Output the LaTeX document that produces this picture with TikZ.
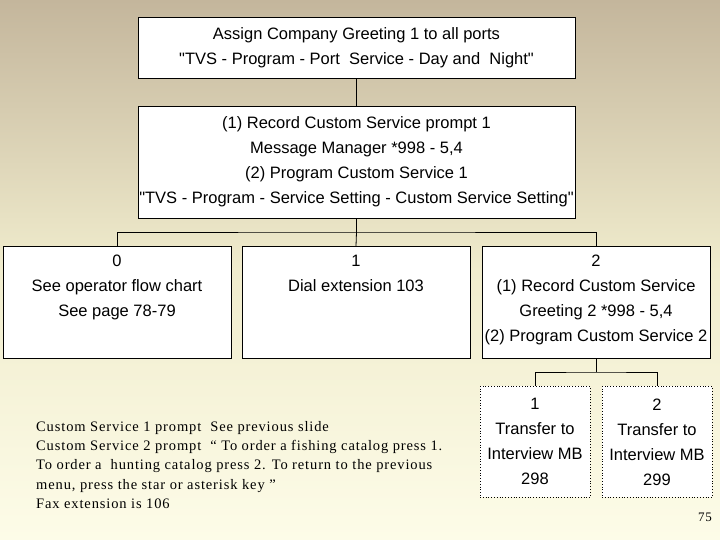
\documentclass[tikz,border=0pt]{standalone}
\usepackage{fontspec}
\setmainfont[Ligatures=TeXOff]{Liberation Sans}
\newfontfamily\tms[LetterSpace=6]{Liberation Serif}
\begin{document}
\begin{tikzpicture}[x=1pt,y=-1pt,
  box/.style={draw=black,fill=white,line width=0.8pt,inner sep=0pt},
  dbox/.style={box,dotted},
  txt/.style={align=center,inner sep=0pt,font=\fontsize{16.5}{25}\selectfont},
  ln/.style={draw=black,line width=0.8pt}]
\shade[top color={rgb,255:red,196;green,182;blue,156},bottom color={rgb,255:red,253;green,252;blue,232},middle color={rgb,255:red,240;green,236;blue,205}] (0,0) rectangle (720,540);
\useasboundingbox (0,0) rectangle (720,540);
\node[box,minimum width=437pt,minimum height=61pt] (a) at (356.5,47.5) {};
\node[txt] (at) at (a) {Assign Company Greeting 1 to all ports\\"TVS - Program - Port\ \ Service - Day and\ \ Night"};
\node[box,minimum width=437pt,minimum height=112pt] (b) at (356.5,162) {};
\node[txt] (bt) at (b) {(1) Record Custom Service prompt 1\\Message Manager *998 - 5,4\\(2) Program Custom Service 1\\"TVS - Program - Service Setting - Custom Service Setting"};
\node[box,minimum width=228pt,minimum height=112pt,anchor=north] (c0) at (117,246) {};
\node[txt,anchor=north] (c0t) at (117,255) {0\\See operator flow chart\\See page 78-79};
\node[box,minimum width=228pt,minimum height=112pt,anchor=north] (c1) at (356,246) {};
\node[txt,anchor=north] (c1t) at (356,255) {1\\Dial extension 103};
\node[box,minimum width=228pt,minimum height=112pt,anchor=north] (c2) at (596,246) {};
\node[txt,anchor=north] (c2t) at (596,255) {2\\(1) Record Custom Service\\Greeting 2 *998 - 5,4\\(2) Program Custom Service 2};
\node[dbox,minimum width=110pt,minimum height=111pt,anchor=north] (d1) at (535,386) {};
\node[txt] (d1t) at (d1) {1\\Transfer to\\Interview MB\\298};
\node[dbox,minimum width=110pt,minimum height=111pt,anchor=north] (d2) at (657,386) {};
\node[txt] (d2t) at (d2) {2\\Transfer to\\Interview MB\\299};
\coordinate (j1) at (356.5,232);
\coordinate (j2) at (596,372);
\draw[ln] (a.south) -- (b.north);
\draw[ln] (b.south) -- (j1);
\draw[ln] (c0.north) |- (j1) -| (c2.north);
\draw[ln] (j1) -- (c1.north);
\draw[ln] (c2.south) -- (j2);
\draw[ln] (d1.north) |- (j2) -| (d2.north);
\node[anchor=north west,align=left,inner sep=0pt,font=\tms\fontsize{14.5}{19.3}\selectfont] (t) at (36,421) {Custom Service 1 prompt\ \ See previous slide\\Custom Service 2 prompt\ \ “ To order a fishing catalog press 1.\\To order a\ \ hunting catalog press 2. To return to the previous\\menu, press the star or asterisk key ”\\Fax extension is 106};
\node[font=\tms\fontsize{13}{15}\selectfont] (p) at (705,517) {75};
\end{tikzpicture}
\end{document}
